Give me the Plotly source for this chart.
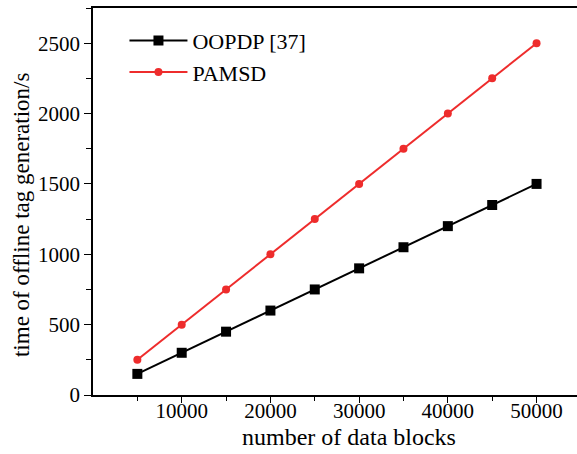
import plotly.graph_objects as go

blocks = [5000, 10000, 15000, 20000, 25000, 30000, 35000, 40000, 45000, 50000]
oopdp = [150, 300, 450, 600, 750, 900, 1050, 1200, 1350, 1500]
pamsd = [250, 500, 750, 1000, 1250, 1500, 1750, 2000, 2250, 2500]
x_ticks = [10000, 20000, 30000, 40000, 50000]
x_minor = [5000, 15000, 25000, 35000, 45000]
y_ticks = [0, 500, 1000, 1500, 2000, 2500]
y_minor = [250, 750, 1250, 1750, 2250, 2750]
x_title = "number of data blocks"
y_title = "time of offline tag generation/s"

FONT = "Liberation Serif, Times New Roman, serif"

fig = go.Figure()
fig.add_trace(go.Scatter(x=blocks, y=oopdp, name="OOPDP [37]", mode="lines+markers",
                         line=dict(color="black", width=2),
                         marker=dict(symbol="square", size=10, color="black")))
fig.add_trace(go.Scatter(x=blocks, y=pamsd, name="PAMSD", mode="lines+markers",
                         line=dict(color="#ee2c2c", width=2),
                         marker=dict(symbol="circle", size=8, color="#ee2c2c")))

fig.update_layout(
    width=577, height=454,
    margin=dict(l=93, r=0, t=8, b=59),
    paper_bgcolor="white", plot_bgcolor="white",
    font=dict(family=FONT, size=21, color="black"),
    showlegend=True,
    legend=dict(x=0.065, y=0.97, xanchor="left", yanchor="top",
                bgcolor="rgba(0,0,0,0)", font=dict(size=22),
                tracegroupgap=0, itemwidth=58),
    xaxis=dict(range=[0, 54560], tickmode="array", tickvals=x_ticks,
               ticktext=[str(v) for v in x_ticks],
               ticks="outside", ticklen=6, tickwidth=1, tickcolor="black",
               ticklabelstandoff=-10,
               minor=dict(tickmode="array", tickvals=x_minor, ticks="outside",
                          ticklen=4, tickcolor="black"),
               showline=True, linecolor="black", linewidth=1.5, mirror=True,
               showgrid=False, zeroline=False, automargin=False),
    yaxis=dict(range=[0, 2750], tickmode="array", tickvals=y_ticks,
               ticks="outside", ticklen=7, tickwidth=1, tickcolor="black",
               minor=dict(tickmode="array", tickvals=y_minor,
                          ticks="outside", ticklen=5, tickcolor="black"),
               showline=True, linecolor="black", linewidth=1.5, mirror=False,
               showgrid=False, zeroline=False, automargin=False),
    annotations=[
        dict(text=x_title, xref="paper", yref="paper", x=0.529, y=-0.1085,
             xanchor="center", yanchor="middle", showarrow=False, font=dict(size=24)),
        dict(text=y_title, xref="paper", yref="paper", x=-0.1488, y=0.465,
             xanchor="center", yanchor="middle", textangle=-90, showarrow=False,
             font=dict(size=23)),
    ],
)

fig.write_html("out.html", config={"displayModeBar": False},
               post_script="document.body.style.margin='0';")
